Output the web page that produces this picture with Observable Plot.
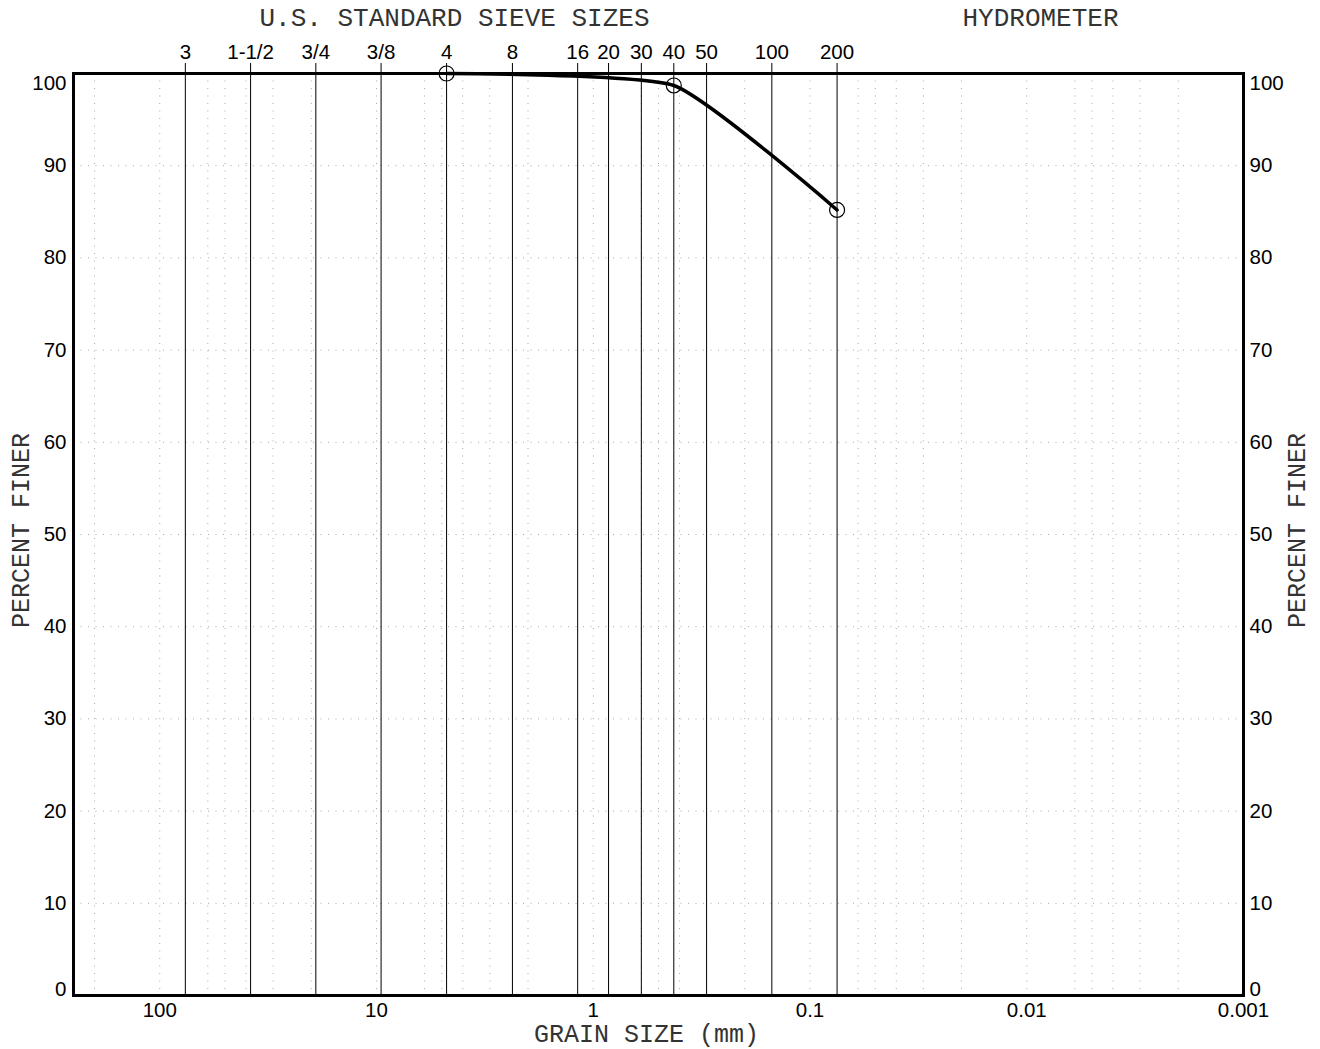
<!DOCTYPE html>
<html>
<head>
<meta charset="utf-8">
<script src="https://cdn.jsdelivr.net/npm/d3@7"></script>
<script src="https://cdn.jsdelivr.net/npm/@observablehq/plot@0.6"></script>
<style>
  html, body { margin: 0; padding: 0; background: #fff; }
  #chart svg { display: block; }
</style>
</head>
<body>
<div id="chart"></div>
<script>
// ---- data ----
const sieveLabels = ["3", "1-1/2", "3/4", "3/8", "4", "8", "16", "20", "30", "40", "50", "100", "200"];
const sieveMm = [76.2, 38.1, 19.05, 9.525, 4.75, 2.36, 1.18, 0.85, 0.6, 0.425, 0.3, 0.15, 0.075];
const grainTicks = [100, 10, 1, 0.1, 0.01, 0.001];
const grainTickLabels = ["100", "10", "1", "0.1", "0.01", "0.001"];
const minorGridMm = [200, 100, 60, 50, 40, 30, 20, 10, 6, 5, 4, 3, 2, 1, 0.6, 0.5, 0.4, 0.3, 0.2, 0.1,
  0.06, 0.05, 0.04, 0.03, 0.02, 0.01, 0.006, 0.005, 0.004, 0.003, 0.002];
const percentGrid = [10, 20, 30, 40, 50, 60, 70, 80, 90];
const sampleSizeMm = [4.75, 0.425, 0.075];
const samplePercentFiner = [100, 98.7, 85.2];

const sample = sampleSizeMm.map((s, i) => ({ size: s, finer: samplePercentFiner[i] }));
const sieves = sieveMm.map((d, i) => ({ mm: d, label: sieveLabels[i] }));
const grains = grainTicks.map((d, i) => ({ mm: d, label: grainTickLabels[i] }));

const mono = "'Liberation Mono', 'DejaVu Sans Mono', monospace";
const sans = "'Liberation Sans', Arial, sans-serif";
const monoFill = "#333";

const chart = Plot.plot({
  width: 1320,
  height: 1049,
  marginLeft: 73,
  marginRight: 77,
  marginTop: 73,
  marginBottom: 54,
  style: { fontFamily: sans, fontSize: "20px", background: "#fff", color: "#000", overflow: "visible" },
  x: { type: "log", domain: [250, 0.001], axis: null },
  y: { domain: [0, 100], axis: null },
  marks: [
    Plot.gridX(minorGridMm, { stroke: "#a8a8a8", strokeOpacity: 1, strokeWidth: 1, strokeDasharray: "1,6.5" }),
    Plot.gridY(percentGrid, { stroke: "#a8a8a8", strokeOpacity: 1, strokeWidth: 1, strokeDasharray: "1,6.5" }),
    Plot.ruleX(sieves, { x: "mm", y1: 100, y2: 0, insetTop: -10, stroke: "#000", strokeWidth: 1 }),
    Plot.text(sieves, { x: "mm", text: "label", frameAnchor: "top", dy: -21, lineAnchor: "middle", fontSize: 20.5 }),
    Plot.text(grains, { x: "mm", text: "label", frameAnchor: "bottom", dy: 15, lineAnchor: "middle", fontSize: 20.5 }),
    Plot.axisY(percentGrid, { anchor: "left", tickSize: 0, tickPadding: 7, fontSize: 20.5, label: null }),
    Plot.axisY([100], { anchor: "left", tickSize: 0, tickPadding: 7, fontSize: 20.5, label: null, dy: 10 }),
    Plot.axisY([0], { anchor: "left", tickSize: 0, tickPadding: 7, fontSize: 20.5, label: null, dy: -6 }),
    Plot.axisY(percentGrid, { anchor: "right", tickSize: 0, tickPadding: 6, fontSize: 20.5, label: null }),
    Plot.axisY([100], { anchor: "right", tickSize: 0, tickPadding: 6, fontSize: 20.5, label: null, dy: 10 }),
    Plot.axisY([0], { anchor: "right", tickSize: 0, tickPadding: 6, fontSize: 20.5, label: null, dy: -6 }),
    Plot.frame({ stroke: "#000", strokeWidth: 3 }),
    Plot.line(sample, { x: "size", y: "finer", curve: "cardinal", tension: 0.5, stroke: "#000", strokeWidth: 3.5 }),
    Plot.dot(sample, { x: "size", y: "finer", r: 7.5, stroke: "#000", fill: "none", strokeWidth: 1.2 }),
    Plot.text(["U.S. STANDARD SIEVE SIZES"], { frameAnchor: "top-left", dx: 381, dy: -56, textAnchor: "middle", lineAnchor: "middle", fontFamily: mono, fontSize: 26, fill: monoFill }),
    Plot.text(["HYDROMETER"], { frameAnchor: "top-right", dx: -203, dy: -56, textAnchor: "middle", lineAnchor: "middle", fontFamily: mono, fontSize: 26, fill: monoFill }),
    Plot.text(["GRAIN SIZE (mm)"], { frameAnchor: "bottom", dx: -12, dy: 38, textAnchor: "middle", lineAnchor: "middle", fontFamily: mono, fontSize: 25, fill: monoFill }),
    Plot.text(["PERCENT FINER"], { frameAnchor: "left", dx: -53, dy: -4, rotate: -90, textAnchor: "middle", lineAnchor: "middle", fontFamily: mono, fontSize: 25, fill: monoFill }),
    Plot.text(["PERCENT FINER"], { frameAnchor: "right", dx: 53, dy: -4, rotate: -90, textAnchor: "middle", lineAnchor: "middle", fontFamily: mono, fontSize: 25, fill: monoFill })
  ]
});
document.getElementById("chart").appendChild(chart);
</script>
</body>
</html>
